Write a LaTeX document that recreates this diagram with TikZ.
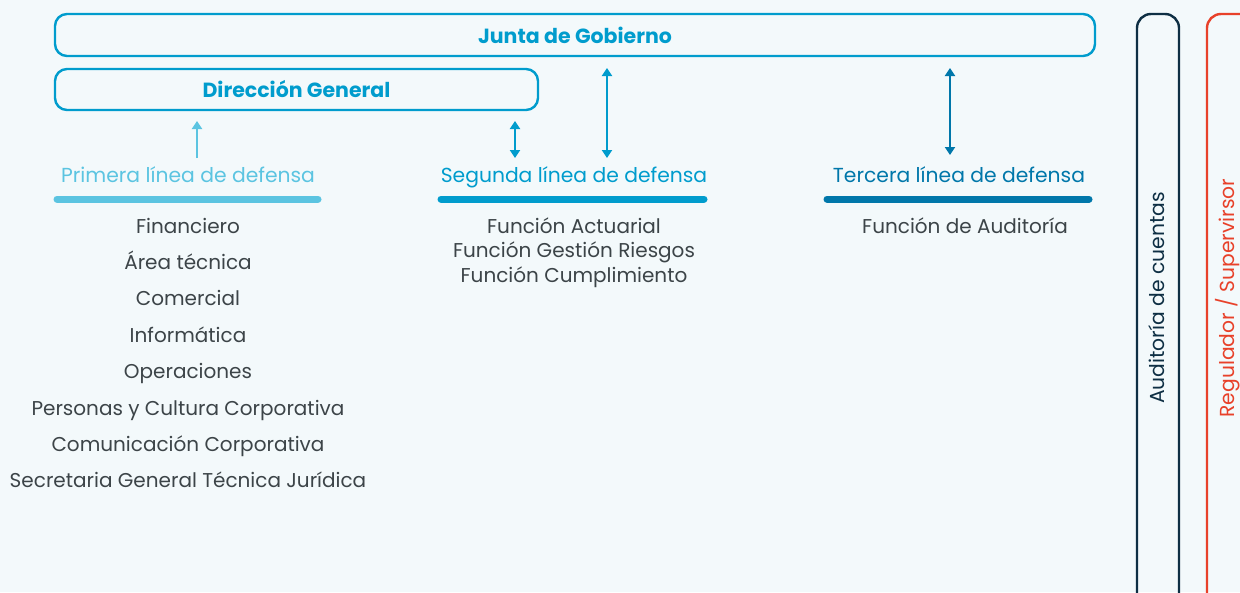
\documentclass[tikz,border=0pt]{standalone}
\usepackage{fontspec}
\setmainfont{Poppins}
\usetikzlibrary{arrows.meta,positioning}
\definecolor{bgcol}{HTML}{F3F9FB}
\definecolor{lightblue}{HTML}{5BC4E1}
\definecolor{midblue}{HTML}{009CCD}
\definecolor{darkblue}{HTML}{0077AA}
\definecolor{navy}{HTML}{0E2F44}
\definecolor{redcol}{HTML}{E8412A}
\definecolor{txtgray}{HTML}{3C4448}
\begin{document}
\begin{tikzpicture}[
        x=1pt, y=-1pt,
        topBox/.style={draw=midblue, line width=2.4pt, rounded corners=12pt, text=midblue, font=\bfseries\fontsize{20.5}{22}\selectfont},
        sideBox/.style={line width=2.4pt, rounded corners=14pt},
        header/.style={font=\fontsize{20.3}{22}\selectfont, text height=17pt, text depth=3pt, inner sep=0pt},
        item/.style={text=txtgray, font=\fontsize{20}{22}\selectfont, text height=17pt, text depth=3pt, inner sep=0pt},
        bar/.style={line width=7pt, line cap=round},
        arr/.style={line width=2pt, -{Triangle[width=10pt,length=8pt]}},
        darr/.style={line width=2pt, {Triangle[width=10pt,length=8pt]}-{Triangle[width=10pt,length=8pt]}}
    ]
        % Background
        \fill[bgcol] (0,0) rectangle (1240,592);
        \useasboundingbox (0,0) rectangle (1240,592);

        % Boxes
        \node[topBox, minimum width=1040pt, minimum height=42pt] (junta) at (575,35) {Junta de Gobierno};
        \node[topBox, minimum width=483pt, minimum height=41pt] (direccion) at (296.5,89.5) {Dirección General};

        % Side boxes
        \draw[sideBox, navy] (1137,610) rectangle (1179,14);
        \draw[sideBox, redcol] (1207,610) rectangle (1260,14);
        \node[rotate=90, text=navy, header] (auditoria) at (1157,298) {Auditoría de cuentas};
        \node[rotate=90, text=redcol, header] (regulador) at (1227,298) {Regulador / Supervirsor};

        % Lines of defense
        \node[header, text=lightblue] (primera) at (188,175) {Primera línea de defensa};
        \node[header, text=midblue] (segunda) at (574,175) {Segunda línea de defensa};
        \node[header, text=darkblue] (tercera) at (959,175) {Tercera línea de defensa};

        \draw[bar, lightblue] (57,199) -- (318,199);
        \draw[bar, midblue] (441,199) -- (704,199);
        \draw[bar, darkblue] (827,199) -- (1089,199);

        % First line items
        \foreach \txt [count=\i] in {Financiero, Área técnica, Comercial, Informática, Operaciones,
            Personas y Cultura Corporativa, Comunicación Corporativa, Secretaria General Técnica Jurídica}
            \node[item] (p\i) at (188,{226+36.4*(\i-1)}) {\txt};

        % Second line items
        \foreach \txt [count=\i] in {Función Actuarial, Función Gestión Riesgos, Función Cumplimiento}
            \node[item] (s\i) at (574,{226+24.5*(\i-1)}) {\txt};

        % Third line items
        \node[item] (t1) at (965,226) {Función de Auditoría};

        % Arrows
        \coordinate (a1s) at (197,158);
        \coordinate (a1e) at (197,121);
        \coordinate (a2s) at (515,158);
        \coordinate (a2e) at (515,121);
        \coordinate (a3s) at (607,158);
        \coordinate (a3e) at (607,68);
        \coordinate (a4s) at (950,155);
        \coordinate (a4e) at (950,68);
        \draw[arr, lightblue] (a1s) -- (a1e);
        \draw[darr, midblue] (a2s) -- (a2e);
        \draw[darr, midblue] (a3s) -- (a3e);
        \draw[darr, darkblue] (a4s) -- (a4e);
    \end{tikzpicture}
\end{document}
